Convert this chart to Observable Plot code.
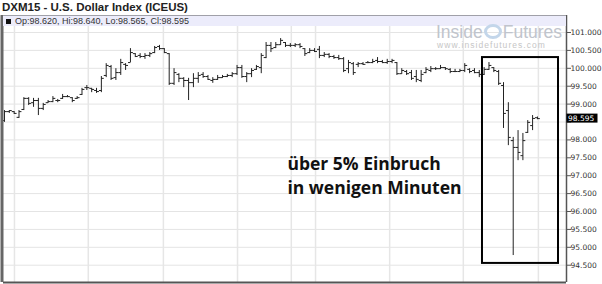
<!DOCTYPE html>
<html><head><meta charset="utf-8">
<script src="https://cdn.jsdelivr.net/npm/d3@7"></script>
<script src="https://cdn.jsdelivr.net/npm/@observablehq/plot@0.6"></script>
<style>
body{margin:0;background:#fff;}
#wrap{position:relative;width:602px;height:284px;overflow:hidden;background:#fff;}
#title{height:15px;font:bold 11.5px "Liberation Sans",Arial,sans-serif;color:#222;padding-left:2px;line-height:14px;white-space:nowrap;}
#band{position:absolute;left:3px;top:15px;width:563px;height:10px;background:#ececfb;border-top:1px solid #a0a0a8;font:9px "Liberation Sans",Arial,sans-serif;color:#333;line-height:10px;white-space:nowrap;}
#band .sq{display:inline-block;width:5px;height:5px;background:#111;margin:0 4px 0 3px;vertical-align:0px;}
#wm{position:absolute;left:436px;top:23px;color:#c0c4cc;font-family:"Liberation Sans",Arial,sans-serif;white-space:nowrap;}
#wm .big{font-size:17.5px;line-height:18px;}
#wm .logo{display:inline-block;width:12px;height:9px;border:3px solid #c3d6ea;border-radius:50%;vertical-align:-1px;margin:0 1px;}
#wm .url{font-size:8.5px;letter-spacing:1.05px;color:#c6c6c6;line-height:9px;margin-left:1px;}
</style></head><body>
<div id="wrap"><div id="title"></div><div id="chart"></div><div id="band"></div><div id="wm"></div></div>
<script>
const chartTitle = "DXM15 - U.S. Dollar Index (ICEUS)";
const openVals = [98.54, 98.79, 98.79, 98.63, 98.85, 99.16, 99.04, 99.10, 98.88, 99.04,
 99.07, 99.10, 99.16, 99.21, 99.18, 99.16, 99.27, 99.46, 99.44, 99.38,
 99.38, 99.80, 100.05, 99.74, 99.88, 100.11, 100.16, 100.41, 100.36, 100.33,
 100.36, 100.44, 100.61, 100.55, 100.41, 99.58, 99.83, 99.72, 99.66, 99.60,
 99.72, 99.83, 99.77, 99.66, 99.69, 99.74, 99.77, 99.80, 99.85, 100.02,
 99.77, 99.85, 99.97, 100.02, 100.30, 100.64, 100.58, 100.66, 100.72, 100.64,
 100.64, 100.66, 100.55, 100.44, 100.50, 100.53, 100.36, 100.39, 100.33, 100.30,
 100.27, 99.99, 100.13, 100.11, 100.13, 100.16, 100.16, 100.22, 100.19, 100.16,
 100.19, 100.16, 99.85, 99.91, 99.88, 99.77, 99.66, 99.88, 99.94, 99.99,
 99.99, 100.02, 99.97, 99.91, 99.91, 99.94, 99.97, 99.94, 99.88, 99.83,
 99.97, 100.02, 99.91, 99.52, 98.82, 97.98, 97.79, 97.56, 98.21, 98.40,
 98.62];
const highVals = [98.82, 98.82, 98.79, 98.82, 99.18, 99.18, 99.16, 99.16, 99.02, 99.10,
 99.21, 99.13, 99.27, 99.24, 99.18, 99.21, 99.44, 99.52, 99.44, 99.44,
 99.77, 100.13, 100.08, 99.99, 100.25, 100.13, 100.55, 100.41, 100.41, 100.41,
 100.44, 100.61, 100.64, 100.55, 100.41, 99.99, 99.85, 99.74, 99.72, 99.85,
 99.88, 99.88, 99.80, 99.74, 99.80, 99.80, 99.83, 99.88, 100.08, 100.08,
 99.88, 99.99, 100.08, 100.41, 100.72, 100.72, 100.72, 100.83, 100.72, 100.69,
 100.69, 100.69, 100.55, 100.55, 100.55, 100.61, 100.44, 100.41, 100.36, 100.36,
 100.30, 100.22, 100.16, 100.16, 100.16, 100.19, 100.25, 100.30, 100.22, 100.25,
 100.25, 100.16, 99.99, 99.94, 99.94, 99.94, 99.94, 100.02, 100.05, 100.02,
 100.08, 100.02, 99.99, 99.97, 99.97, 100.13, 99.99, 99.99, 99.94, 100.02,
 100.16, 100.02, 99.94, 99.60, 99.04, 98.07, 98.26, 98.18, 98.54, 98.68,
 98.64];
const lowVals = [98.49, 98.74, 98.71, 98.60, 98.82, 98.96, 98.91, 98.68, 98.82, 99.02,
 99.04, 99.04, 99.13, 99.18, 99.04, 99.13, 99.24, 99.38, 99.32, 99.30,
 99.32, 99.74, 99.66, 99.66, 99.80, 99.94, 100.16, 100.30, 100.27, 100.25,
 100.30, 100.41, 100.50, 100.41, 99.52, 99.52, 99.60, 99.46, 99.10, 99.46,
 99.58, 99.72, 99.66, 99.58, 99.66, 99.72, 99.74, 99.74, 99.80, 99.72,
 99.60, 99.74, 99.94, 99.85, 100.27, 100.44, 100.55, 100.64, 100.58, 100.58,
 100.58, 100.55, 100.33, 100.41, 100.44, 100.27, 100.30, 100.27, 100.25, 100.22,
 99.88, 99.85, 99.80, 100.02, 100.08, 100.13, 100.13, 100.13, 100.13, 100.11,
 100.13, 99.80, 99.83, 99.80, 99.66, 99.60, 99.60, 99.85, 99.88, 99.94,
 99.97, 99.94, 99.85, 99.88, 99.88, 99.88, 99.85, 99.85, 99.74, 99.80,
 99.94, 99.88, 99.52, 98.32, 97.84, 94.77, 97.42, 97.42, 98.18, 98.26,
 98.565];
const closeVals = [98.79, 98.82, 98.74, 98.79, 99.16, 99.02, 99.10, 98.88, 98.99, 99.07,
 99.16, 99.10, 99.21, 99.21, 99.10, 99.18, 99.41, 99.46, 99.41, 99.35,
 99.72, 100.08, 99.72, 99.88, 100.16, 100.08, 100.44, 100.33, 100.33, 100.36,
 100.41, 100.58, 100.55, 100.44, 99.58, 99.88, 99.72, 99.66, 99.60, 99.72,
 99.80, 99.77, 99.69, 99.69, 99.74, 99.77, 99.80, 99.85, 100.02, 99.77,
 99.85, 99.94, 100.05, 100.36, 100.64, 100.55, 100.66, 100.78, 100.64, 100.64,
 100.66, 100.61, 100.41, 100.50, 100.47, 100.36, 100.39, 100.33, 100.30, 100.27,
 99.94, 100.16, 99.88, 100.13, 100.11, 100.16, 100.19, 100.19, 100.16, 100.19,
 100.22, 99.85, 99.94, 99.85, 99.72, 99.69, 99.83, 99.97, 99.99, 99.99,
 100.02, 99.99, 99.91, 99.91, 99.94, 100.08, 99.91, 99.88, 99.83, 99.97,
 100.08, 99.94, 99.58, 98.74, 98.07, 97.79, 97.65, 97.98, 98.49, 98.60,
 98.595];
const yTicks = [94.5, 95, 95.5, 96, 96.5, 97, 97.5, 98, 98.5, 99, 99.5, 100, 100.5, 101];
const sessionLines = [2.06, 17.3, 32.8, 48.1, 59.2, 64.2, 79.5, 94.7, 110.2];
const annotationLines = ["über 5% Einbruch", "in wenigen Minuten"];
const annotationPos = {x: 58.4, y: 96.49};
const boxRange = {x1: 98.66, x2: 114.35, y1: 94.55, y2: 100.30};
const xDomain = [-0.2, 116.0];
const yDomain = [94.017, 101.475];

const bars = openVals.map((o, i) => ({i, open: o, high: highVals[i], low: lowVals[i], close: closeVals[i]}));
const last = bars[bars.length - 1];
const f3 = d3.format(".3f");
const labelTicks = yTicks.filter(t => Math.abs(t - last.close) > 0.2);

document.getElementById("title").textContent = chartTitle;
document.getElementById("band").innerHTML = '<span class="sq"></span>' +
  `Op:${f3(last.open)}, Hi:${f3(last.high)}, Lo:${f3(last.low)}, Cl:${f3(last.close)}`;
document.getElementById("wm").innerHTML =
  '<div class="big">Inside<span class="logo"></span>Futures</div><div class="url">www.insidefutures.com</div>';

const lastLabel = (index, scales, values, dimensions) => {
  const g = d3.create("svg:g");
  const y = scales.y(last.close);
  const x = dimensions.width - dimensions.marginRight;
  g.append("rect").attr("x", x + 0.5).attr("y", y - 4.5).attr("width", 31).attr("height", 9).attr("fill", "#000");
  g.append("text").attr("x", x + 2).attr("y", y + 2.8).attr("fill", "#fff")
    .attr("text-anchor", "start")
    .attr("font-size", 7.5).attr("font-family", "DejaVu Sans").text(f3(last.close));
  return g.node();
};

const chart = Plot.plot({
  width: 602,
  height: 269,
  marginTop: 0,
  marginBottom: 2,
  marginLeft: 3,
  marginRight: 36,
  style: {fontFamily: "DejaVu Sans", fontSize: "7.5px", color: "#333", background: "#fff", overflow: "visible"},
  x: {domain: xDomain, axis: null},
  y: {domain: yDomain, axis: null},
  marks: [
    Plot.ruleY(yTicks, {stroke: "#e4e4e4", strokeWidth: 1}),
    Plot.ruleX(sessionLines, {stroke: "#e6e6e6", strokeWidth: 1.5}),
    Plot.ruleX(bars, {x: "i", y1: "low", y2: "high", stroke: "#222", strokeWidth: 1}),
    Plot.link(bars, {x1: d => d.i - 0.5, x2: "i", y1: "open", y2: "open", stroke: "#222", strokeWidth: 1}),
    Plot.link(bars, {x1: "i", x2: d => d.i + 0.5, y1: "close", y2: "close", stroke: "#222", strokeWidth: 1}),
    Plot.rect([boxRange], {x1: "x1", x2: "x2", y1: "y1", y2: "y2", fill: "none", stroke: "#000", strokeWidth: 2}),
    Plot.text([annotationLines.join("\n")], {x: () => annotationPos.x, y: () => annotationPos.y, text: d => d,
      textAnchor: "start", lineAnchor: "bottom", lineHeight: 1.375, fontSize: 17.5, fontWeight: 700,
      fontFamily: "Open Sans", fill: "#111"}),
    Plot.axisY(yTicks, {anchor: "right", tickFormat: () => "", tickSize: 4, label: null, stroke: "#555"}),
    Plot.axisY(labelTicks, {anchor: "right", tickFormat: f3, tickSize: 0, tickPadding: 4, label: null, fill: "#333", fontSize: 7.5}),
    Plot.ruleX([xDomain[1]], {stroke: "#555", strokeWidth: 1.5}),
    Plot.ruleY([yDomain[0]], {stroke: "#555", strokeWidth: 2}),
    Plot.ruleX([xDomain[0]], {stroke: "#666", strokeWidth: 3, dx: -1.5}),
    lastLabel
  ]
});
document.getElementById("chart").appendChild(chart);
</script>
</body></html>
